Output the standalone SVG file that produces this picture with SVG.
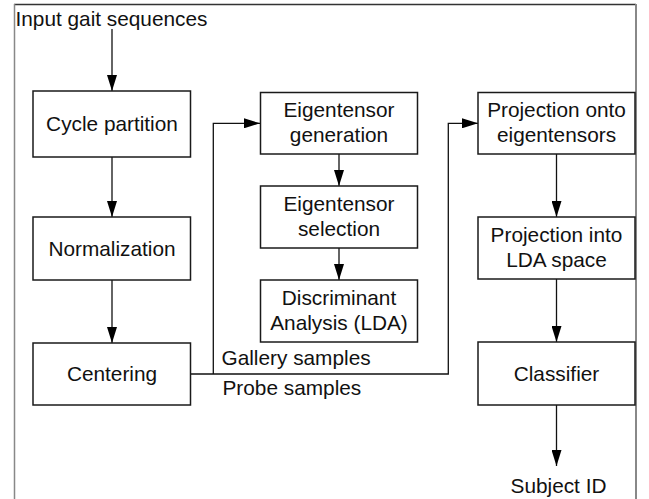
<svg xmlns="http://www.w3.org/2000/svg" width="649" height="499" viewBox="0 0 649 499">
<style>
.box{fill:#fff;stroke:#1a1a1a;stroke-width:1.5}
.t{font-family:"Liberation Sans",Arial,sans-serif;font-size:20.8px;fill:#111}
.c{text-anchor:middle}
.ln{fill:none;stroke:#111;stroke-width:1.3}
</style>
<defs>
<marker id="ah" markerUnits="userSpaceOnUse" markerWidth="16" markerHeight="10" refX="16" refY="5" orient="auto">
<path d="M0,0 L16,5 L0,10 z" fill="#000"/>
</marker>
</defs>
<rect x="0" y="0" width="649" height="499" fill="#fff"/>
<g id="frame">
<line x1="14" y1="4.5" x2="636" y2="4.5" stroke="#333" stroke-width="1.3"/>
<line x1="14.5" y1="4" x2="14.5" y2="499" stroke="#888" stroke-width="1.5"/>
<line x1="636" y1="4" x2="636" y2="499" stroke="#888" stroke-width="2"/>
</g>
<g id="connectors">
<path class="ln" d="M112,29 V91" marker-end="url(#ah)"/>
<path class="ln" d="M112,157 V217" marker-end="url(#ah)"/>
<path class="ln" d="M112,280 V343" marker-end="url(#ah)"/>
<path class="ln" d="M339,154 V186" marker-end="url(#ah)"/>
<path class="ln" d="M339,248 V280" marker-end="url(#ah)"/>
<path class="ln" d="M190.5,374 H448.3 V123.3 H478" marker-end="url(#ah)"/>
<path class="ln" d="M213.3,374 V123.3 H260" marker-end="url(#ah)"/>
<path class="ln" d="M556.5,154 V217" marker-end="url(#ah)"/>
<path class="ln" d="M556.5,279 V342" marker-end="url(#ah)"/>
<path class="ln" d="M556.5,405 V466" marker-end="url(#ah)"/>
</g>
<g id="input"><text class="t" x="15.5" y="26">Input gait sequences</text></g>
<g id="cycle"><rect class="box" x="33" y="91" width="157.5" height="66"/><text class="t c" x="112" y="131">Cycle partition</text></g>
<g id="normalization"><rect class="box" x="33" y="217" width="157.5" height="63"/><text class="t c" x="112" y="255.5">Normalization</text></g>
<g id="centering"><rect class="box" x="33" y="343" width="157.5" height="62"/><text class="t c" x="112" y="381">Centering</text></g>
<g id="eig-gen"><rect class="box" x="260.5" y="92.5" width="157" height="61.5"/><text class="t c" x="339" y="117">Eigentensor</text><text class="t c" x="339" y="142">generation</text></g>
<g id="eig-sel"><rect class="box" x="260.5" y="186" width="157" height="62"/><text class="t c" x="339" y="210.5">Eigentensor</text><text class="t c" x="339" y="235.5">selection</text></g>
<g id="lda"><rect class="box" x="260.5" y="280" width="157" height="62"/><text class="t c" x="339" y="304.5">Discriminant</text><text class="t c" x="339" y="329.5">Analysis (LDA)</text></g>
<g id="gallery"><text class="t" x="221.5" y="365">Gallery samples</text></g>
<g id="probe"><text class="t" x="222.5" y="395">Probe samples</text></g>
<g id="proj-eig"><rect class="box" x="478" y="92.5" width="157" height="61.5"/><text class="t c" x="556.5" y="117">Projection onto</text><text class="t c" x="556.5" y="142">eigentensors</text></g>
<g id="proj-lda"><rect class="box" x="478" y="217" width="157" height="62"/><text class="t c" x="556.5" y="241.5">Projection into</text><text class="t c" x="556.5" y="266.5">LDA space</text></g>
<g id="classifier"><rect class="box" x="478" y="342" width="157" height="63"/><text class="t c" x="556.5" y="380.5">Classifier</text></g>
<g id="subject"><text class="t c" x="558.5" y="493">Subject ID</text></g>
</svg>
